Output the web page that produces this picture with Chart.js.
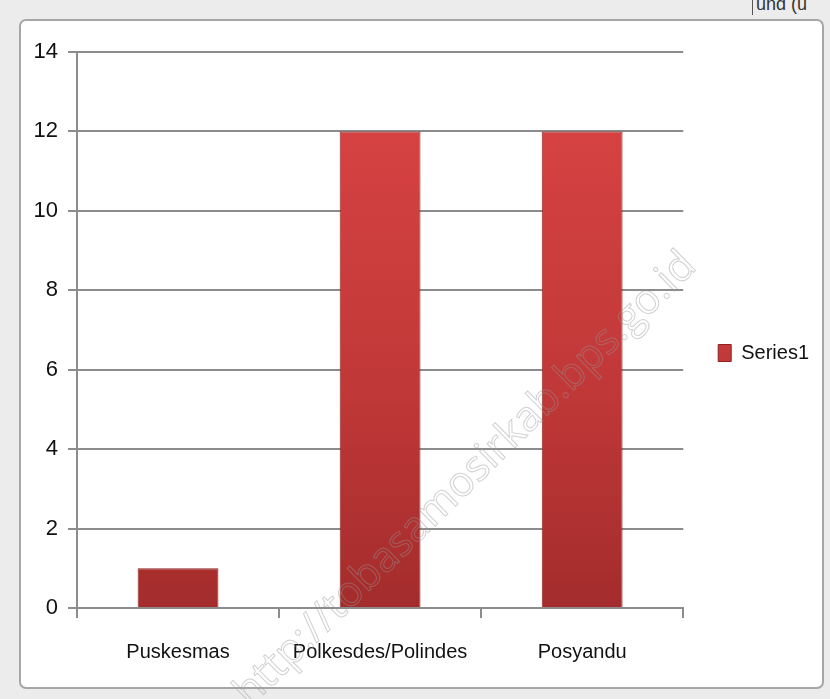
<!DOCTYPE html>
<html>
<head>
<meta charset="utf-8">
<script src="https://cdn.jsdelivr.net/npm/chart.js@4/dist/chart.umd.min.js"></script>
<style>
  body { margin: 0; background: #ececec; width: 830px; height: 699px; overflow: hidden; position: relative; }
  .frame { position: absolute; left: 19px; top: 19px; width: 801px; height: 666px;
           border: 2px solid #a6a6a6; border-radius: 7px; background: #fff; }
  .clip { position: absolute; left: 752px; top: -6px; font: 18px "Liberation Sans", sans-serif; color: #333;
          border-left: 1px solid #555; padding-left: 3px; }
  canvas { position: absolute; left: 0; top: 0; }
</style>
</head>
<body>
<div class="frame"></div>
<div class="clip">und (u</div>
<canvas id="chart" width="830" height="699"></canvas>
<script>
// data
const categories = ['Puskesmas', 'Polkesdes/Polindes', 'Posyandu'];
const series1 = [1, 12, 12];
const seriesName = 'Series1';
const yTicks = [0, 2, 4, 6, 8, 10, 12, 14];

const fontFamily = '"Liberation Sans", Arial, sans-serif';

// red bar shading, light at top and dark at bottom
function barFill(context) {
  const chart = context.chart;
  const area = chart.chartArea;
  if (!area) return '#c63a3a';
  const g = chart.ctx.createLinearGradient(0, area.top, 0, area.bottom);
  g.addColorStop(0, '#dc4545');
  g.addColorStop(0.6, '#c13838');
  g.addColorStop(1, '#a42c2c');
  return g;
}

// faint diagonal watermark over the plot
const watermark = {
  id: 'watermark',
  afterDraw(chart) {
    const c = chart.ctx;
    c.save();
    c.translate(698, 268);
    c.rotate(-44.5 * Math.PI / 180);
    c.font = '42px "Open Sans", sans-serif';
    c.textAlign = 'right';
    c.textBaseline = 'alphabetic';
    c.lineWidth = 1;
    c.strokeStyle = 'rgba(150,150,150,0.45)';
    c.strokeText('http://tobasamosirkab.bps.go.id', 0, 0);
    c.restore();
  },
};

const ctx = document.getElementById('chart');
const graph = new Chart(ctx, {
  type: 'bar',
  data: {
    labels: categories,
    datasets: [{
      label: seriesName,
      data: series1,
      backgroundColor: barFill,
      borderColor: '#8a2222',
      borderWidth: 1,
      barPercentage: 0.4,
      categoryPercentage: 1,
    }],
  },
  options: {
    responsive: false,
    animation: false,
    layout: { padding: { left: 20, top: 36, right: 11, bottom: 29 } },
    plugins: {
      tooltip: { enabled: false },
      // empty title only keeps the plot top below the legend's top edge
      title: { display: true, text: '', padding: 0, font: { size: 16, lineHeight: 1 } },
      legend: {
        position: 'right',
        align: 'center',
        labels: {
          boxWidth: 13,
          boxHeight: 17,
          padding: 35,
          color: '#111',
          font: { family: fontFamily, size: 20 },
        },
      },
    },
    scales: {
      x: {
        afterFit(scale) { scale.height = 62; },
        grid: { drawOnChartArea: false, drawTicks: true, tickLength: 10, color: '#8c8c8c', lineWidth: 2 },
        border: { color: '#8c8c8c', width: 2 },
        ticks: { color: '#111', padding: 22, font: { family: fontFamily, size: 20 } },
      },
      y: {
        min: 0,
        max: 14,
        afterFit(scale) { scale.width = 57; },
        afterBuildTicks(scale) { scale.ticks = yTicks.map(v => ({ value: v })); },
        grid: { color: '#8c8c8c', lineWidth: 2, tickLength: 9 },
        border: { color: '#8c8c8c', width: 2 },
        ticks: { color: '#111', padding: 10, font: { family: fontFamily, size: 22 } },
      },
    },
  },
  plugins: [watermark],
});
</script>
</body>
</html>
